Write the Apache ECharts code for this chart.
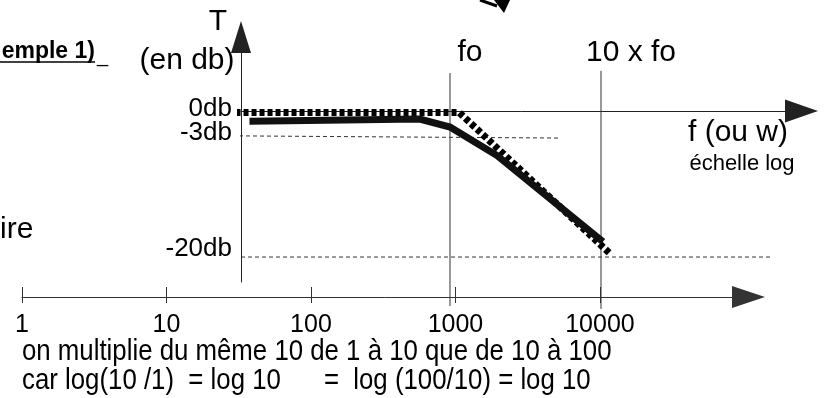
<!DOCTYPE html>
<html>
<head>
<meta charset="utf-8">
<title>Bode</title>
<script src="https://cdn.jsdelivr.net/npm/echarts@6.0.0/dist/echarts.min.js"></script>
<style>
  html, body { margin: 0; padding: 0; background: #fff; }
  #main { width: 829px; height: 398px; }
</style>
</head>
<body>
<div id="main"></div>
<script>
// courbe reelle et asymptotes (f en Hz, T en db)
const asymFreq = [38, 1150, 11700];
const asymDb = [-0.2, -0.2, -19.7];
const realFreq = [47, 630, 1000, 2050, 10300];
const realDb = [-1.4, -1.1, -2.2, -6.1, -17.9];
// verticales fo et 10 x fo
const foFreq = 1000;
const foLineDb = [5.2, -26.7];
const tenFoFreq = 10000;
const tenFoLineDb = [5.5, -27.1];
// pointilles -3db et -20db
const m3Freq = [36, 5200];
const m3Db = [-3.4, -3.7];
const m20Freq = [41.3, 131500];
const m20Db = [-20, -20];
// graduations
const yTicks = [0, -3, -20];
const yTickLabels = ['0db', '-3db', '-20db'];
const fTicks = [1, 10, 100, 1000, 10000];
const fTickLabels = ['1', '10', '100', '1000', '10000'];

const FONT = 'Liberation Sans, Arial, sans-serif';

function pairs(xs, ys) {
  return xs.map(function (x, i) { return [x, ys[i]]; });
}

const chart = echarts.init(document.getElementById('main'));

function txt(text, x, y, size, align, extra) {
  return {
    type: 'text', x: x, y: y, silent: true,
    style: Object.assign({
      text: text, fill: '#000', font: size + 'px ' + FONT,
      textAlign: align || 'center', textVerticalAlign: 'middle'
    }, extra || {})
  };
}

// texte du bas, un peu etroit comme dans l'original
function narrowTxt(text, x, y, size) {
  const t = txt(text, 0, 0, size, 'left');
  t.x = x; t.y = y; t.scaleX = 0.86;
  return t;
}

function dbLabel(v) {
  const i = yTicks.indexOf(Math.round(v));
  if (i < 0) return '';
  if (yTicks[i] === -20) return '{c|' + yTickLabels[i] + '}';
  if (yTicks[i] === 0) return '{a|' + yTickLabels[i] + '}';
  return yTickLabels[i];
}

const dbRich = {
  a: { fontSize: 26, fontFamily: FONT, padding: [0, 0, 5, 0] },
  c: { fontSize: 26, fontFamily: FONT, padding: [0, 0, 16, 0] }
};

const option = {
  animation: false,
  backgroundColor: '#fff',
  grid: [
    { left: 241, top: 37, width: 560.5, height: 245 },
    { left: 22, top: 290, width: 726.5, height: 7 }
  ],
  xAxis: [
    {
      gridIndex: 0, type: 'log', min: 41.3, max: 212700,
      axisLine: { onZero: true, symbol: ['none', 'triangle'], symbolSize: [23, 33],
        lineStyle: { color: '#222', width: 1 } },
      axisTick: { show: false }, axisLabel: { show: false }, splitLine: { show: false }
    },
    {
      gridIndex: 1, type: 'log', min: 1, max: 106700, position: 'bottom',
      axisLine: { onZero: false, symbol: ['none', 'triangle'], symbolSize: [22, 33],
        lineStyle: { color: '#333', width: 1 } },
      axisTick: { inside: true, length: 10, customValues: fTicks, lineStyle: { color: '#333' } },
      axisLabel: {
        customValues: fTicks, margin: 16, fontSize: 25, fontFamily: FONT, color: '#000',
        showMinLabel: true, showMaxLabel: true, hideOverlap: false,
        formatter: function (v) {
          const i = fTicks.indexOf(Math.round(v));
          return i < 0 ? '' : fTickLabels[i];
        }
      },
      splitLine: { show: false }
    },
    {
      gridIndex: 1, type: 'log', min: 1, max: 106700, position: 'bottom',
      axisLine: { show: false, onZero: false },
      axisTick: { inside: false, length: 6, customValues: fTicks, lineStyle: { color: '#333' } },
      axisLabel: { show: false }, splitLine: { show: false }
    }
  ],
  yAxis: [
    {
      gridIndex: 0, type: 'value', min: -23.42, max: 10.14, position: 'left',
      axisLine: { onZero: false, symbol: ['none', 'triangle'], symbolSize: [20, 32],
        lineStyle: { color: '#222', width: 1 } },
      axisTick: { show: false }, splitLine: { show: false },
      axisLabel: {
        customValues: [yTicks[0], yTicks[2]], margin: 9, fontSize: 26, fontFamily: FONT, color: '#000',
        showMinLabel: true, showMaxLabel: true, hideOverlap: false,
        formatter: dbLabel, rich: dbRich
      }
    },
    { gridIndex: 1, type: 'value', min: 0, max: 1, show: false },
    {
      // -3db sur un axe a part, sinon ECharts le masque (chevauchement avec 0db)
      gridIndex: 0, type: 'value', min: -23.42, max: 10.14, position: 'left',
      axisLine: { show: false, onZero: false }, axisTick: { show: false }, splitLine: { show: false },
      axisLabel: {
        customValues: [yTicks[1]], margin: 9, fontSize: 26, fontFamily: FONT, color: '#000',
        showMinLabel: true, showMaxLabel: true, formatter: dbLabel, rich: dbRich
      }
    }
  ],
  series: [
    {
      type: 'line', data: pairs(foLineDb.map(function () { return foFreq; }), foLineDb),
      symbol: 'none', clip: false, silent: true,
      lineStyle: { color: '#333', width: 1 }
    },
    {
      type: 'line', data: pairs(tenFoLineDb.map(function () { return tenFoFreq; }), tenFoLineDb),
      symbol: 'none', clip: false, silent: true,
      lineStyle: { color: '#333', width: 1 }
    },
    {
      type: 'line', data: pairs(m3Freq, m3Db), symbol: 'none', clip: false, silent: true,
      lineStyle: { color: '#333', width: 1, type: [4, 3] }
    },
    {
      type: 'line', data: pairs(m20Freq, m20Db), symbol: 'none', clip: false, silent: true,
      lineStyle: { color: '#333', width: 1, type: [4, 3] }
    },
    {
      // asymptotes
      type: 'line', data: pairs(asymFreq, asymDb), symbol: 'none', clip: false, silent: true,
      lineStyle: { color: '#000', width: 7, type: [5, 3] }
    },
    {
      // courbe reelle
      type: 'line', data: pairs(realFreq, realDb), symbol: 'none', clip: false, silent: true,
      lineStyle: { color: '#111', width: 7, join: 'miter' }
    }
  ],
  graphic: [
    txt('T', 218, 22, 30),
    txt('(en db)', 187, 61, 30),
    txt('fo', 470, 53, 30),
    txt('10 x fo', 631, 53, 30),
    txt('f (ou w)', 738, 133, 30),
    txt('échelle log', 742, 164, 22),
    txt('emple 1)', 95, 52, 23, 'right', { font: 'bold 23px ' + FONT }),
    { type: 'line', silent: true, shape: { x1: 0, y1: 62, x2: 95, y2: 62 }, style: { stroke: '#000', lineWidth: 1.5 } },
    txt('_', 97, 56, 20, 'left'),
    txt('ire', 0, 230, 30, 'left'),
    narrowTxt('on multiplie du même 10 de 1 à 10 que de 10 à 100', 22, 352, 30),
    narrowTxt('car log(10 /1)  = log 10      =  log (100/10) = log 10', 22, 381, 30),
    { type: 'polyline', silent: true, shape: { points: [[480, 0], [497, 6]] }, style: { stroke: '#000', lineWidth: 3, fill: null } },
    { type: 'polygon', silent: true, shape: { points: [[494, 0], [510, 0], [504, 13]] }, style: { fill: '#000' } }
  ]
};

chart.setOption(option);
</script>
</body>
</html>
